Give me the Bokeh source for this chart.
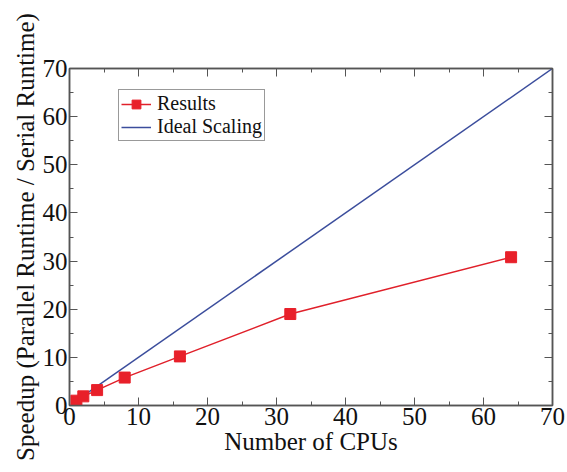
from bokeh.plotting import figure
from bokeh.models import LinearAxis, Range1d, Legend, LegendItem, FixedTicker
from bokeh.embed import file_html
from bokeh.resources import INLINE

cpus = [1, 2, 4, 8, 16, 32, 64]
speedup = [1.0, 1.9, 3.2, 5.8, 10.2, 19.0, 30.8]
ideal_x = [1, 70]
ideal_y = [1, 70]
ticks = [0, 10, 20, 30, 40, 50, 60, 70]
minor = [5, 15, 25, 35, 45, 55, 65]

FONT = "Liberation Serif"
AX = "#555555"

p = figure(width=567, height=472, output_backend="svg", toolbar_location=None,
           x_range=Range1d(0, 70), y_range=Range1d(0, 70),
           min_border_left=69, min_border_right=15, min_border_top=68, min_border_bottom=67,
           x_axis_label="Number of CPUs", y_axis_label="Speedup (Parallel Runtime / Serial Runtime)")
p.xgrid.visible = False
p.ygrid.visible = False
p.outline_line_color = AX
p.outline_line_width = 1.5
p.background_fill_color = "white"
p.border_fill_color = "white"

def style(ax, labels=True):
    ax.ticker = FixedTicker(ticks=ticks, minor_ticks=minor)
    ax.axis_line_color = AX
    ax.axis_line_width = 1.5
    ax.major_tick_in = 8
    ax.major_tick_out = 0
    ax.minor_tick_in = 4
    ax.minor_tick_out = 0
    ax.major_tick_line_color = AX
    ax.minor_tick_line_color = AX
    ax.major_label_text_font = FONT
    ax.major_label_text_font_size = "25px"
    ax.major_label_text_color = "#111111" if labels else None
    ax.axis_label_text_font = FONT
    ax.axis_label_text_font_size = "25px"
    ax.axis_label_text_font_style = "normal"
    ax.axis_label_text_color = "#111111"

for ax in p.xaxis + p.yaxis:
    style(ax)
p.xaxis.major_label_standoff = 2
p.yaxis.major_label_standoff = 2
p.xaxis.axis_label_standoff = 0
p.yaxis.axis_label_standoff = 1

top = LinearAxis()
right = LinearAxis()
style(top, False)
style(right, False)
p.add_layout(top, "above")
p.add_layout(right, "right")

ideal = p.line(ideal_x, ideal_y, line_color="#3b4d9c", line_width=1.5)
res_line = p.line(cpus, speedup, line_color="#e0202a", line_width=1.5)
res_pts = p.scatter(cpus, speedup, marker="square", size=11, fill_color="#e8202a", line_color="#e8202a")

legend = Legend(items=[LegendItem(label="Results", renderers=[res_line, res_pts]),
                       LegendItem(label="Ideal Scaling", renderers=[ideal])],
                location=(49, 264))
legend.label_text_font = FONT
legend.label_text_font_size = "20px"
legend.label_text_color = "#111111"
legend.border_line_color = "#333333"
legend.border_line_width = 1.2
legend.spacing = 0
legend.padding = 2
legend.margin = 0
legend.label_height = 22
legend.glyph_height = 22
legend.glyph_width = 30
legend.label_standoff = 6
legend.background_fill_alpha = 1
p.add_layout(legend, "center")

open("out.html", "w").write(file_html(p, INLINE))
